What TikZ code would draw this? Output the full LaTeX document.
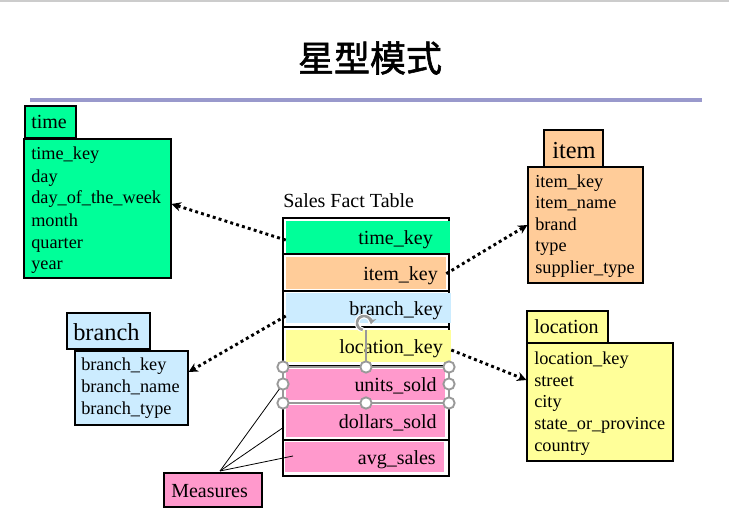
\documentclass[tikz,border=0pt]{standalone}
\usepackage{fontspec}
\setmainfont{Liberation Serif}
\newfontfamily\cjk[RawFeature={embolden=1.6}]{Noto Sans CJK SC}
\usetikzlibrary{fit,arrows.meta}
\definecolor{tgreen}{HTML}{00FF99}
\definecolor{torange}{HTML}{FFCC99}
\definecolor{tblue}{HTML}{CCECFF}
\definecolor{tyellow}{HTML}{FFFF99}
\definecolor{tpink}{HTML}{FF99CC}
\definecolor{barcol}{HTML}{9999CC}
\definecolor{hgray}{HTML}{999999}
\tikzset{
  box/.style={draw=black, line width=0.9pt, inner sep=0pt},
  rowfill/.style={draw=none, inner sep=0pt},
  txt/.style={inner sep=0pt, anchor=base west, font=\fontsize{13.7}{16}\selectfont},
  midtxt/.style={inner sep=0pt, anchor=base west, font=\fontsize{15}{17}\selectfont},
  bigtxt/.style={inner sep=0pt, anchor=base west, font=\fontsize{18.3}{20}\selectfont},
  rowtxt/.style={inner sep=0pt, anchor=base east, font=\fontsize{15}{17}\selectfont},
  link/.style={line width=2.2pt, dash pattern=on 2.2pt off 2.4pt, -{Stealth[length=7pt,width=7pt]}},
  meas/.style={line width=0.6pt},
  handle/.style={circle, draw=hgray, fill=white, line width=1.4pt, minimum size=8.5pt, inner sep=0pt},
}
\begin{document}
\begin{tikzpicture}[x=0.75pt,y=-0.75pt]
\useasboundingbox (0,0) rectangle (729,517);
\fill[white] (0,0) rectangle (729,517);
\draw[line width=1.2pt, color=black!20] (0,1) -- (729,1);
% title
\node[inner sep=0pt, font=\cjk\fontsize{27}{30}\selectfont] (title) at (370,58) {星型模式};
\fill[barcol] (30,98.5) rectangle (702,102.5);

% ---- time dimension
\node[box, fill=tgreen, fit={(25,106) (76,138)}] (timehead) {};
\node[midtxt] at (31,129) {time};
\node[box, fill=tgreen, fit={(24,139) (171,278)}] (timebody) {};
\node[txt] at (31,160) {time\_key};
\node[txt] at (31,182) {day};
\node[txt] at (31,204) {day\_of\_the\_week};
\node[txt] at (31,226) {month};
\node[txt] at (31,248) {quarter};
\node[txt] at (31,269) {year};

% ---- item dimension
\node[box, fill=torange, fit={(544,130) (603,167)}] (itemhead) {};
\node[bigtxt] at (552,158) {item};
\node[box, fill=torange, fit={(528,167) (643,283)}] (itembody) {};
\node[txt] at (535,187) {item\_key};
\node[txt] at (535,209) {item\_name};
\node[txt] at (535,230) {brand};
\node[txt] at (535,251) {type};
\node[txt] at (535,273) {supplier\_type};

% ---- branch dimension
\node[box, fill=tblue, fit={(67,313) (150,349)}] (branchhead) {};
\node[bigtxt] at (73,340) {branch};
\node[box, fill=tblue, fit={(75,351) (188,425)}] (branchbody) {};
\node[txt] at (81,370) {branch\_key};
\node[txt] at (81,392) {branch\_name};
\node[txt] at (81,414) {branch\_type};

% ---- location dimension
\node[box, fill=tyellow, fit={(527,311) (608,343)}] (lochead) {};
\node[midtxt] at (534,333) {location};
\node[box, fill=tyellow, fit={(527,343) (673,461)}] (locbody) {};
\node[txt] at (534,364) {location\_key};
\node[txt] at (534,386) {street};
\node[txt] at (534,407) {city};
\node[txt] at (534,429) {state\_or\_province};
\node[txt] at (534,451) {country};

% ---- fact table
\node[midtxt] (facttitle) at (283,207) {Sales Fact Table};
\node[box, fill=white, fit={(283,218) (449,476)}] (fact) {};
\foreach \yy in {254,291,327,366,403,440}
  \draw[line width=1.5pt] (283,\yy) -- (449,\yy);
\node[rowfill, fill=tgreen,   fit={(286,221) (450,253)}] (rtime) {};
\node[rowfill, fill=torange,  fit={(286,257) (446,289)}] (ritem) {};
\node[rowfill, fill=tblue,    fit={(286,293) (451,323)}] (rbranch) {};
\node[rowfill, fill=tyellow,  fit={(286,330) (451,362)}] (rloc) {};
\node[rowfill, fill=tpink,    fit={(286,369) (445,400)}] (runits) {};
\node[rowfill, fill=tpink,    fit={(286,405) (445,437)}] (rdollars) {};
\node[rowfill, fill=tpink,    fit={(285,442) (444,472)}] (ravg) {};
\node[rowtxt] at (433,244) {time\_key};
\node[rowtxt] at (438,280) {item\_key};
\node[rowtxt] at (443,315) {branch\_key};
\node[rowtxt] at (443,353) {location\_key};
\node[rowtxt] at (437,391) {units\_sold};
\node[rowtxt] at (437,428) {dollars\_sold};
\node[rowtxt] at (436,464) {avg\_sales};

% ---- dotted links
\draw[link] ([yshift=-2.3pt]rtime.west) -- ([yshift=3.4pt]timebody.east);
\draw[link] ([yshift=-0.5pt]ritem.east) -- (itembody.west);
\draw[link] ([yshift=-6pt]rbranch.west) -- ([yshift=12pt]branchbody.east);
\draw[link] ([yshift=-3pt]rloc.east) -- ([yshift=16.5pt]locbody.west);

% ---- measures
\node[box, fill=tpink, fit={(164,473) (262,507)}] (measures) {};
\node[midtxt] at (171,497) {Measures};
\coordinate (mapex) at (220,471);
\draw[meas] (mapex) -- (283,384);
\draw[meas] (mapex) -- (284,427);
\draw[meas] (mapex) -- (293,456);

% ---- selection handles
\draw[hgray, line width=1pt] (283,367) rectangle (449,403);
\draw[hgray, line width=1pt] (366,330) -- (366,367);
\draw[white, line width=3.6pt] (364,323) ++(100:7) arc[start angle=100, end angle=370, radius=7];
\draw[hgray, line width=2pt, -{Stealth[length=4.5pt,width=6.5pt]}] (364,323) ++(100:7) arc[start angle=100, end angle=370, radius=7];
\foreach \hx/\hy in {283/367,366/367,449/367,283/384,449/384,283/403,366/403,449/403}
  \node[handle] at (\hx,\hy) {};
\end{tikzpicture}
\end{document}
